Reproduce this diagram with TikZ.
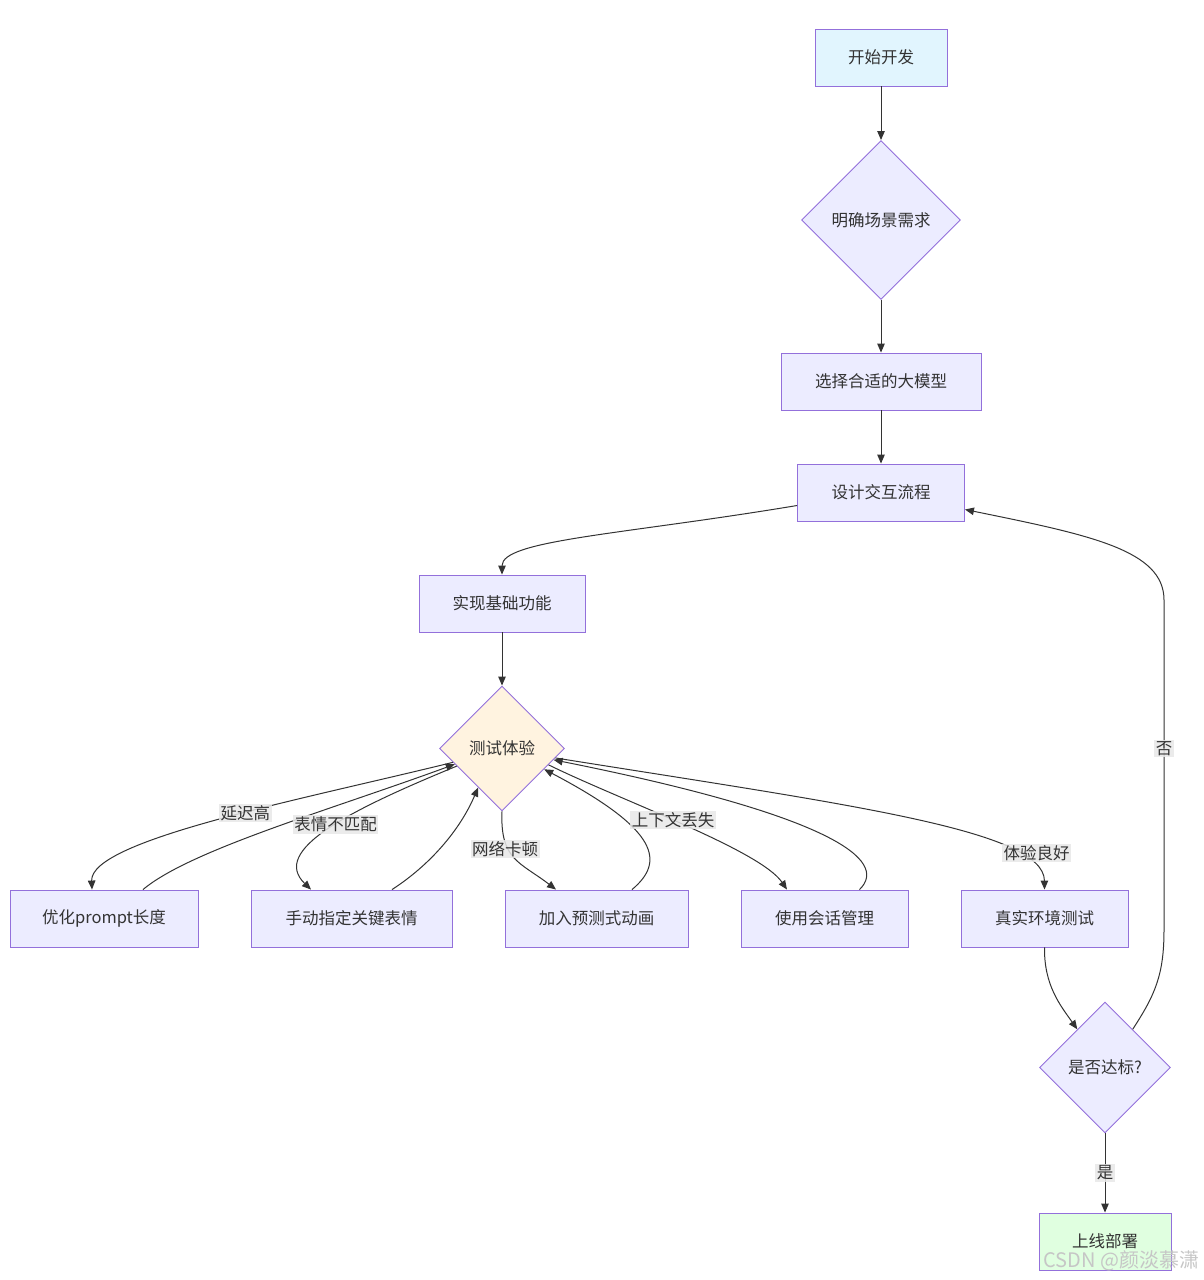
\documentclass[tikz,border=0pt]{standalone}
\usepackage{fontspec}
\setmainfont{Noto Sans CJK SC}
\usepackage{xcolor}
\usepackage{tikz}
\usetikzlibrary{positioning,calc,shapes.geometric,arrows.meta}

\definecolor{boxfill}{HTML}{ECECFF}
\definecolor{boxline}{HTML}{9370DB}
\definecolor{startfill}{HTML}{E1F5FE}
\definecolor{testfill}{HTML}{FFF3E0}
\definecolor{donefill}{HTML}{E0FFE0}
\definecolor{linecol}{HTML}{333333}
\definecolor{lblfill}{HTML}{E8E8E8}

\tikzset{
	stepbox/.style={draw=boxline, fill=boxfill, line width=0.9pt, minimum height=57pt, inner sep=0, text=linecol},
	choice/.style={diamond, aspect=1, draw=boxline, fill=boxfill, line width=0.9pt, inner sep=0, text=linecol},
	flow/.style={draw=linecol, line width=1pt, -{Triangle[length=9pt,width=7.5pt]}},
	lbl/.style={fill=lblfill, fill opacity=0.85, text opacity=1, inner sep=1.5pt, text=linecol}
}

\begin{document}
\begin{tikzpicture}[x=1pt,y=-1pt,font=\fontsize{16.5}{20}\selectfont]
					\useasboundingbox (0,0) rectangle (1204,1280);

					\node[stepbox, fill=startfill, minimum width=132pt] (start) at (881,57.5) {开始开发};
					\node[choice, minimum size=159pt] (scene) at (881,220) {明确场景需求};
					\node[stepbox, minimum width=200pt] (model) at (881,381.5) {选择合适的大模型};
					\node[stepbox, minimum width=167pt] (design) at (881,492.5) {设计交互流程};
					\node[stepbox, minimum width=166pt] (basic) at (502,603.5) {实现基础功能};
					\node[choice, fill=testfill, minimum size=125pt] (test) at (502,748.5) {测试体验};
					\node[stepbox, minimum width=188pt] (prompt) at (104,918.5) {优化prompt长度};
					\node[stepbox, minimum width=201pt] (emoji) at (351.5,918.5) {手动指定关键表情};
					\node[stepbox, minimum width=183pt] (anim) at (596.5,918.5) {加入预测式动画};
					\node[stepbox, minimum width=167pt] (session) at (824.5,918.5) {使用会话管理};
					\node[stepbox, minimum width=167pt] (real) at (1044.5,918.5) {真实环境测试};
					\node[choice, minimum size=131pt] (ok) at (1105,1067.5) {是否达标?};
					\node[stepbox, fill=donefill, minimum width=132pt] (deploy) at (1105,1241.5) {上线部署};

					\draw[flow] (start) -- (scene);
					\draw[flow] (scene) -- (model);
					\draw[flow] (model) -- (design);
					\draw[flow] ([yshift=-13pt]design.west) .. controls (620,535) and (502,540) .. (basic.north);
					\draw[flow] (basic) -- (test);

					\draw[flow] ($(test.west)!0.22!(test.south)$) .. controls (300,800) and (90,840) .. node[lbl,pos=0.43]{延迟高} ([xshift=-12pt]prompt.north);
					\draw[flow] ([xshift=39pt]prompt.north) .. controls (190,850) and (330,810) .. ($(test.west)!0.25!(test.south)$);
					\draw[flow] ($(test.west)!0.28!(test.south)$) .. controls (350,810) and (270,850) .. node[lbl,pos=0.46]{表情不匹配} ([xshift=-40.5pt]emoji.north);
					\draw[flow] ([xshift=40.5pt]emoji.north) .. controls (430,865) and (460,830) .. ($(test.west)!0.62!(test.south)$);
					\draw[flow] (test.south) .. controls (500,860) and (520,862) .. node[lbl,pos=0.36,xshift=-3pt]{网络卡顿} ([xshift=-40.5pt]anim.north);
					\draw[flow] ([xshift=35.5pt]anim.north) .. controls (665,862) and (660,830) .. ($(test.east)!0.33!(test.south)$);
					\draw[flow] ($(test.east)!0.26!(test.south)$) .. controls (620,800) and (760,850) .. node[lbl,pos=0.46]{上下文丢失} ([xshift=-37.5pt]session.north);
					\draw[flow] ([xshift=35pt]session.north) .. controls (890,860) and (830,815) .. ($(test.east)!0.18!(test.south)$);
					\draw[flow] ($(test.east)!0.15!(test.south)$) .. controls (850,805) and (1044,830) .. node[lbl,pos=0.77,xshift=22pt]{体验良好} (real.north);

					\draw[flow] (real.south) .. controls (1044,985) and (1060,1005) .. ($(ok.north)!0.42!(ok.west)$);
					\draw[flow] ($(ok.north)!0.42!(ok.east)$) .. controls (1155,995) and (1164,975) .. (1164,930) -- node[lbl,pos=0.55]{否} (1164,600) .. controls (1164,550) and (1090,535) .. ([yshift=-17pt]design.east);
					\draw[flow] (ok) -- node[lbl]{是} (deploy);

					\node[anchor=east, text=gray!45, font=\fontsize{20}{24}\selectfont] (mark) at (1203,1261) {CSDN @颜淡慕潇};
				\end{tikzpicture}
\end{document}
